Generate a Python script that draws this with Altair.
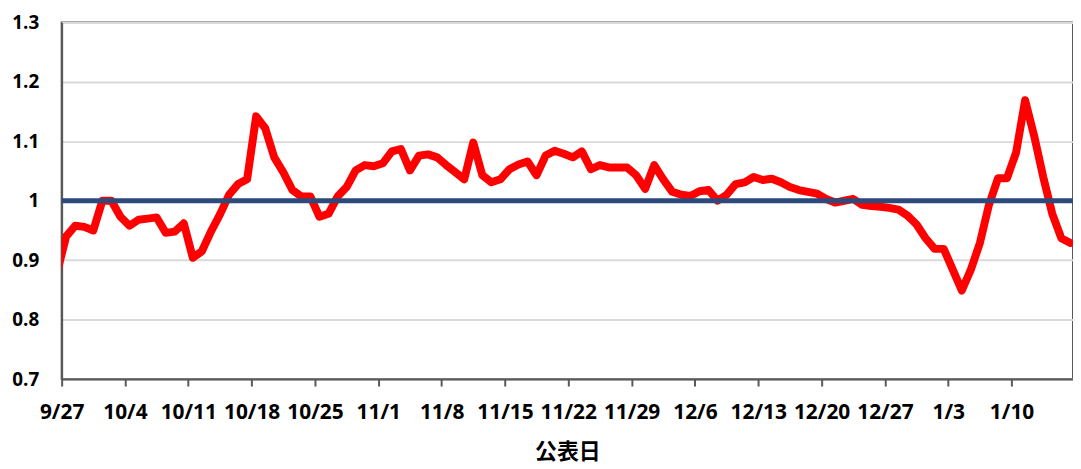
import altair as alt
import pandas as pd

# ---- data (one value per day, 9/26 .. 1/16) ----
first_day = "2020-09-26"
values = [
    0.880,
    0.940, 0.958, 0.956, 0.950, 1.000, 1.000, 0.973, 0.958, 0.968, 0.970,
    0.972, 0.946, 0.948, 0.962, 0.904, 0.915, 0.948, 0.977, 1.010, 1.028,
    1.036, 1.142, 1.122, 1.073, 1.048, 1.018, 1.007, 1.007, 0.973, 0.978,
    1.007, 1.023, 1.051, 1.060, 1.058, 1.063, 1.083, 1.087, 1.051, 1.076,
    1.078, 1.073, 1.060, 1.048, 1.036, 1.098, 1.043, 1.031, 1.036, 1.053,
    1.061, 1.066, 1.043, 1.076, 1.084, 1.079, 1.073, 1.083, 1.053, 1.060,
    1.056, 1.056, 1.056, 1.043, 1.020, 1.060, 1.036, 1.015, 1.010, 1.008,
    1.016, 1.018, 1.000, 1.010, 1.028, 1.031, 1.040, 1.035, 1.037, 1.031,
    1.023, 1.018, 1.015, 1.012, 1.003, 0.997, 1.000, 1.003, 0.993, 0.991,
    0.990, 0.988, 0.985, 0.975, 0.960, 0.937, 0.919, 0.919, 0.884, 0.849,
    0.884, 0.929, 0.993, 1.038, 1.038, 1.081, 1.169, 1.109, 1.040, 0.978,
    0.937, 0.929,
]
tick_dates = ["2020-09-27", "2020-10-04", "2020-10-11", "2020-10-18", "2020-10-25",
              "2020-11-01", "2020-11-08", "2020-11-15", "2020-11-22", "2020-11-29",
              "2020-12-06", "2020-12-13", "2020-12-20", "2020-12-27", "2021-01-03",
              "2021-01-10"]
x_domain = ["2020-09-27T00:00", "2021-01-16T19:00"]
y_ticks = [0.7, 0.8, 0.9, 1.0, 1.1, 1.2, 1.3]
ref_value = [1.0]
x_title = "公表日"

# each day's value is published at noon of that day (UTC)
dates = pd.date_range(first_day + "T12:00", periods=len(values), freq="D")
df = pd.DataFrame({
    "date": [d.strftime("%Y-%m-%dT%H:%M:%SZ") for d in dates],
    "value": values,
})
ref_df = pd.DataFrame({"ref": ref_value})


def to_dt(s):
    ts = pd.Timestamp(s)
    return alt.DateTime(year=ts.year, month=ts.month, date=ts.day,
                        hours=ts.hour, minutes=ts.minute, utc=True)


x_enc = alt.X(
    "date:T",
    scale=alt.Scale(type="utc", domain=[to_dt(s) for s in x_domain], nice=False),
    axis=alt.Axis(
        values=[to_dt(s) for s in tick_dates],
        labelExpr="utcFormat(datum.value, '%-m/%-d')",
        title=x_title,
        grid=False,
        tickSize=7,
        labelPadding=16,
        labelFontSize=21,
        titlePadding=19,
        titleFont="Noto Sans CJK JP",
        titleFontSize=22,
        titleFontWeight="bold",
        titleColor="#000000",
        labelFlush=False,
        labelOverlap=False,
    ),
)
y_enc = alt.Y(
    "value:Q",
    scale=alt.Scale(domain=[0.7, 1.3], nice=False, zero=False),
    axis=alt.Axis(
        values=y_ticks,
        format=".1~f",
        title=None,
        grid=True,
        gridColor="#d9d9d9",
        gridWidth=2,
        ticks=False,
        labelPadding=23,
        labelFontSize=19,
    ),
)

line = alt.Chart(df).mark_line(
    color="#FF0000", strokeWidth=8, strokeJoin="round", strokeCap="round", clip=True
).encode(x=x_enc, y=y_enc)

rule = alt.Chart(ref_df).mark_rule(color="#2D4A7C", strokeWidth=5).encode(
    y=alt.Y("ref:Q")
)

chart = (
    alt.layer(line, rule)
    .properties(
        width=1018,
        height=359,
        autosize=alt.AutoSizeParams(type="none"),
        padding={"left": 54, "top": 13, "right": 0, "bottom": 88},
    )
    .configure_axis(
        labelFont="Open Sans",
        labelFontWeight="bold",
        labelColor="#000000",
        domainColor="#595959",
        domainWidth=2,
        tickColor="#595959",
        tickWidth=2,
    )
    .configure_view(stroke="#595959", strokeWidth=2)
)

chart.save("out.html", embed_options={"renderer": "svg", "actions": False})
